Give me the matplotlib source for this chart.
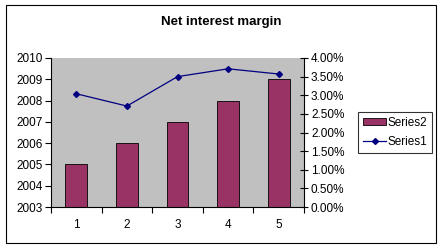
import matplotlib.pyplot as plt
import matplotlib.patches as mpatches
from matplotlib.ticker import FuncFormatter, FixedLocator
import numpy as np

plt.rcParams['font.family'] = ['Liberation Sans', 'DejaVu Sans']

# данные
categories = [1, 2, 3, 4, 5]
series2 = [2005, 2006, 2007, 2008, 2009]
series1 = [3.04, 2.71, 3.50, 3.71, 3.57]  # проценты

fig = plt.figure(figsize=(4.41, 2.48), dpi=100)
fig.patch.set_facecolor('white')

# рамка вокруг всей диаграммы
fig.patches.append(mpatches.Rectangle((6 / 441, 1 - 243 / 248), 430 / 441, 238 / 248,
                                      transform=fig.transFigure, fill=False,
                                      edgecolor='black', linewidth=0.8))

ax = fig.add_axes([51 / 441, 1 - 207 / 248, 253 / 441, 149 / 248])
ax.set_facecolor('#C0C0C0')
x = np.arange(len(categories))
ax.bar(x, np.array(series2) - 2003, bottom=2003, width=0.43,
       color='#993366', edgecolor='black', linewidth=0.6, label='Series2', zorder=2)
ax.set_xlim(-0.5, len(categories) - 0.5)
ax.set_ylim(2003, 2010)
ax.set_yticks(range(2003, 2011))
ax.set_xticks(x)
ax.set_xticklabels([str(c) for c in categories])
ax.xaxis.set_minor_locator(FixedLocator(np.arange(-0.5, len(categories), 1.0)))
ax.tick_params(axis='x', which='major', length=0, pad=9, labelsize=8.5)
ax.tick_params(axis='x', which='minor', length=4, direction='out', width=0.8)
ax.tick_params(axis='y', length=4, direction='out', width=0.8, labelsize=8.5, pad=2)
ax.spines['top'].set_visible(False)
ax.spines['right'].set_visible(False)
for s in ['left', 'bottom']:
    ax.spines[s].set_linewidth(0.8)

ax2 = ax.twinx()
ax2.plot(x, series1, color='#000080', marker='D', markersize=3, linewidth=0.9,
         label='Series1', zorder=3)
ax2.set_ylim(0, 4)
ax2.set_yticks(np.arange(0, 4.01, 0.5))
ax2.yaxis.set_major_formatter(FuncFormatter(lambda v, p: '%.2f%%' % v))
ax2.tick_params(axis='y', length=6, direction='inout', width=0.8, labelsize=8.5, pad=2)
ax2.spines['top'].set_visible(False)
ax2.spines['left'].set_visible(False)
ax2.spines['bottom'].set_visible(False)
ax2.spines['right'].set_linewidth(0.8)

fig.text(221 / 441, 1 - 22 / 248, 'Net interest margin',
         ha='center', va='center', fontsize=9.5, fontweight='bold')

h1, l1 = ax.get_legend_handles_labels()
h2, l2 = ax2.get_legend_handles_labels()
leg = fig.legend(h1 + h2, l1 + l2, loc='center left',
                 bbox_to_anchor=(358 / 441, 1 - 132.5 / 248),
                 fontsize=8.5, frameon=True, fancybox=False, borderpad=0.4,
                 handlelength=2.0, handleheight=0.5, handletextpad=0.1,
                 labelspacing=0.6, borderaxespad=0)
leg.get_frame().set_edgecolor('black')
leg.get_frame().set_linewidth(0.8)

fig.savefig('out.png', dpi=100)
